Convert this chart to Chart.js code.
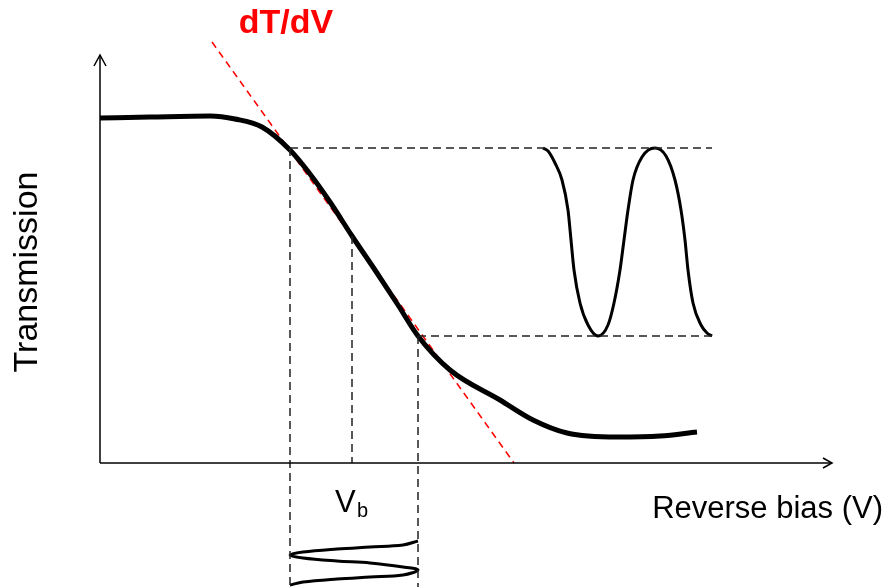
<!DOCTYPE html>
<html>
<head>
<meta charset="utf-8">
<script src="https://cdn.jsdelivr.net/npm/chart.js@4"></script>
<style>
  html, body { margin: 0; padding: 0; background: #fff; }
  canvas { display: block; }
</style>
</head>
<body>
<canvas id="grafico" width="887" height="587"></canvas>
<script>
// ==========================================================================
// DATOS (unidades arbitrarias: bias en x, transmision en y)
// ==========================================================================
const curvaBias = [0, 5, 11, 13.5, 16.2, 19, 21, 23, 25.2, 27.5, 29.8, 31.8, 35, 40, 43.3, 46.7, 51.7, 56, 59.7];
const curvaTrans = [34.5, 34.6, 34.7, 34.4, 33.6, 31.3, 28.9, 26.1, 22.7, 19.3, 15.8, 12.7, 9.3, 6.3, 4.3, 3.0, 2.6, 2.7, 3.1];

// tangente dT/dV
const tangenteBias = [11.2, 41.4];
const tangenteTrans = [42.1, 0];

// senal de salida (transmision modulada)
const salidaBias = [44.3, 44.8, 45.5, 46.2, 46.8, 47.1, 47.4, 48, 48.8, 49.8, 50.8, 51.4, 52, 52.4, 52.8, 53.3, 54.2, 55.5, 56.6, 57.5, 58.1, 58.5, 58.8, 59.3, 60.1, 60.7, 61.2];
const salidaTrans = [31.5, 31.2, 30.0, 28.3, 25.3, 22.3, 19.3, 16, 13.8, 12.7, 13.8, 16, 19.3, 22.3, 25.3, 28.3, 30.6, 31.5, 30.7, 28.3, 25.3, 22.3, 19.3, 16, 13.8, 13.0, 12.7];

// senal de entrada (voltaje modulado, tiempo hacia abajo)
const entradaBias = [31.8, 30.3, 27, 23.7, 20.3, 19, 20.3, 23.7, 27, 30.3, 31.8, 30.3, 27, 23.7, 20.3, 19];
const entradaTiempo = [-7.8, -8.2, -8.4, -8.6, -8.9, -9.2, -9.5, -9.8, -10, -10.4, -10.7, -11.2, -11.4, -11.6, -11.9, -12.2];

// niveles de referencia
const biasMin = 19, biasMax = 31.8, biasPunto = 25.2;
const transMax = 31.5, transMin = 12.7, transPunto = 22.7;
const bordeDerecho = 61.2, bordeInferior = -12.4;
const ejeXMax = 73.2, ejeYMax = 40.8;

// Helper: junta dos arrays en puntos {x, y}
function puntos(xs, ys) {
    return xs.map((x, i) => ({ x: x, y: ys[i] }));
}

function linea(data, extra) {
    return Object.assign({
        data: data,
        showLine: true,
        pointRadius: 0,
        borderColor: '#000',
        borderWidth: 1.5,
        fill: false,
        clip: false,
        tension: 0
    }, extra || {});
}

const guion = [8, 5];

// ==========================================================================
// PLUGIN DE TEXTOS Y FLECHAS
// ==========================================================================
const textos = {
    id: 'textos',
    afterDraw(chart) {
        const ctx = chart.ctx;
        const sx = chart.scales.x, sy = chart.scales.y;
        const px = v => sx.getPixelForValue(v);
        const py = v => sy.getPixelForValue(v);
        ctx.save();

        // flechas de los ejes
        ctx.strokeStyle = '#000';
        ctx.lineWidth = 1.5;
        ctx.beginPath();
        ctx.moveTo(px(0) - 6, py(ejeYMax) + 11);
        ctx.lineTo(px(0), py(ejeYMax));
        ctx.lineTo(px(0) + 6, py(ejeYMax) + 11);
        ctx.moveTo(px(ejeXMax) - 9, py(0) - 5);
        ctx.lineTo(px(ejeXMax), py(0));
        ctx.lineTo(px(ejeXMax) - 9, py(0) + 5);
        ctx.stroke();

        ctx.fillStyle = '#000';
        ctx.textBaseline = 'alphabetic';

        // Reverse bias (V)
        ctx.font = '31px "Liberation Sans", Arial, sans-serif';
        ctx.textAlign = 'right';
        ctx.fillText('Reverse bias (V)', 883, 518);

        // V_b
        ctx.textAlign = 'left';
        ctx.font = '31px "Liberation Sans", Arial, sans-serif';
        ctx.fillText('V', 335, 512);
        ctx.font = '20px "Liberation Sans", Arial, sans-serif';
        ctx.fillText('b', 357, 517);

        // dT/dV
        ctx.fillStyle = '#ff0000';
        ctx.font = 'bold 34px "Liberation Sans", Arial, sans-serif';
        ctx.textAlign = 'center';
        ctx.fillText('dT/dV', 286, 33);

        // Transmission (vertical)
        ctx.fillStyle = '#000';
        ctx.translate(37, 272);
        ctx.rotate(-Math.PI / 2);
        ctx.font = '34px "Liberation Sans", Arial, sans-serif';
        ctx.textAlign = 'center';
        ctx.fillText('Transmission', 0, 0);
        ctx.restore();
    }
};

// ==========================================================================
// GRAFICO
// ==========================================================================
const ctxGrafico = document.getElementById('grafico').getContext('2d');
new Chart(ctxGrafico, {
    type: 'scatter',
    data: {
        datasets: [
            // ejes
            linea(puntos([0, 0], [0, ejeYMax])),
            linea(puntos([0, ejeXMax], [0, 0])),
            // guias punteadas
            linea(puntos([biasMin, bordeDerecho], [transMax, transMax]), { borderDash: guion, borderColor: '#222' }),
            linea(puntos([biasMax, bordeDerecho], [transMin, transMin]), { borderDash: guion, borderColor: '#222' }),
            linea(puntos([biasMin, biasMin], [transMax, bordeInferior]), { borderDash: guion, borderColor: '#222' }),
            linea(puntos([biasMax, biasMax], [transMin, bordeInferior]), { borderDash: guion, borderColor: '#222' }),
            linea(puntos([biasPunto, biasPunto], [transPunto, 0]), { borderDash: guion, borderColor: '#222' }),
            // curva de transmision
            linea(puntos(curvaBias, curvaTrans), { borderWidth: 5, cubicInterpolationMode: 'monotone' }),
            // tangente
            linea(puntos(tangenteBias, tangenteTrans), { borderColor: '#ff0000', borderWidth: 1.5, borderDash: [7, 5] }),
            // senales
            linea(puntos(salidaBias, salidaTrans), { borderWidth: 3, cubicInterpolationMode: 'monotone' }),
            linea(puntos(entradaBias, entradaTiempo), { borderWidth: 3, tension: 0.35 })
        ]
    },
    options: {
        responsive: false,
        animation: false,
        layout: { padding: 0 },
        plugins: { legend: { display: false }, tooltip: { enabled: false } },
        scales: {
            x: { type: 'linear', min: -10, max: 78.7, display: false },
            y: { type: 'linear', min: -12.4, max: 46.3, display: false }
        }
    },
    plugins: [textos]
});
</script>
</body>
</html>
